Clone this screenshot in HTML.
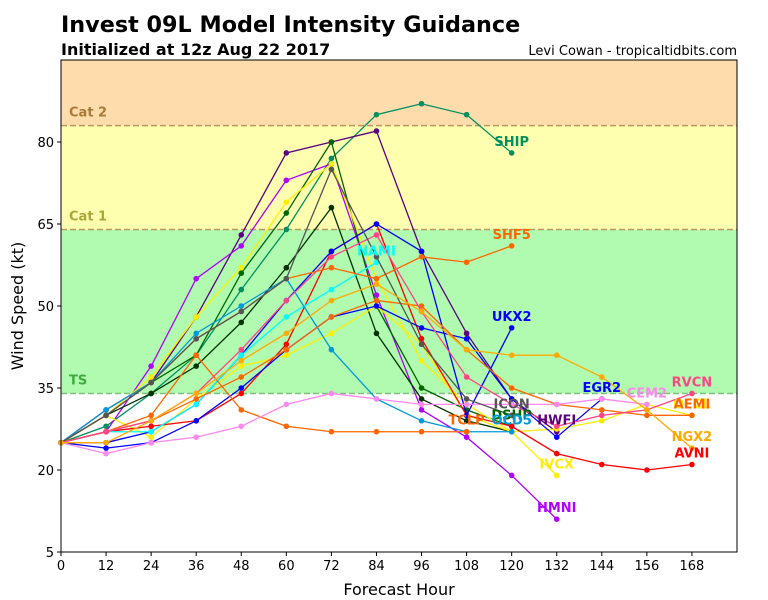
<!DOCTYPE html>
<html><head><meta charset="utf-8"><style>
body{margin:0;background:#fff;}
svg{display:block;font-family:"DejaVu Sans","Liberation Sans",sans-serif;}
</style></head><body>
<svg id="chart" width="768" height="600">
<text x="61" y="32" font-size="22.3" font-weight="bold">Invest 09L Model Intensity Guidance</text>
<text x="61" y="55" font-size="16" font-weight="bold">Initialized at 12z Aug 22 2017</text>
<text x="737" y="55" font-size="13" text-anchor="end">Levi Cowan - tropicaltidbits.com</text>
<g id="plot"></g>
</svg>
<script>
const xTicks=[0,12,24,36,48,60,72,84,96,108,120,132,144,156,168];
const yTicks=[5,20,35,50,65,80];
const bandNames=["TS","Cat 1","Cat 2"];
const bandLows=[34,64,83];
const names=["SHIP","HWFI","HMNI","DSHP","LGEM","OFCL","IVCX","AVNI","EGR2","UKX2","NAMI","OCD5","TCLP","SHF5","AEMI","RVCN","CEM2","ICON","NGX2"];
const colors=["#009060","#5c0080","#b000ff","#006600","#003300","#ffee00","#ffee00","#ff0000","#0000ff","#0000ff","#00ffff","#0099dd","#ff6600","#ff6600","#ff6600","#ff4488","#ff88ee","#555555","#ffaa00"];
const s_SHIP=[25,28,34,41,53,64,77,85,87,85,78];
const s_HWFI=[25,31,36,48,63,78,80,82,60,45,33,27];
const s_HMNI=[25,27,39,55,61,73,76,52,31,26,19,11];
const s_DSHP=[25,30,36,41,56,67,80,50,35,31,28];
const s_LGEM=[25,30,34,39,47,57,68,45,33,29,27];
const s_OFCL=[25,30,37,48,57,69,76,55,40,32,27,27.5,29,32,30];
const s_IVCX=[25,30,26,33,39,41,45,50,43,30,27,19];
const s_AVNI=[25,27,28,29,34,43,60,65,44,30,28,23,21,20,21];
const s_EGR2=[25,24,25,29,35,42,48,50,46,44,33,26,33];
const s_UKX2=[25,25,27,32,41,51,60,65,60,30,46];
const s_NAMI=[25,27,27,32,41,48,53,58];
const s_OCD5=[25,31,36,45,50,55,42,33,29,27,27];
const s_TCLP=[25,27,30,41,31,28,27,27,27,27];
const s_SHF5=[25,30,36,44,49,55,57,55,59,58,61];
const s_AEMI=[25,27,29,33,37,42,48,51,50,42,35,32,31,30,30];
const s_RVCN=[25,27,29,34,42,51,59,63,49,37,32,28,30,31,34];
const s_CEM2=[25,23,25,26,28,32,34,33,32,32,32,32,33,32];
const s_ICON=[25,30,36,44,49,55,75,59,43,33,30];
const s_NGX2=[25,25,29,34,40,45,51,54,49,42,41,41,37,31,24];
const series=[s_SHIP,s_HWFI,s_HMNI,s_DSHP,s_LGEM,s_OFCL,s_IVCX,s_AVNI,s_EGR2,s_UKX2,s_NAMI,s_OCD5,s_TCLP,s_SHF5,s_AEMI,s_RVCN,s_CEM2,s_ICON,s_NGX2];

const L=61,R=737,T=60,B=552,xMax=180,yMin=5,yMax=95;
const X=v=>L+(v/xMax)*(R-L);
const Y=v=>B-(v-yMin)/(yMax-yMin)*(B-T);
const NS="http://www.w3.org/2000/svg";
const g=document.getElementById('plot');
function mk(tag,at,parent){const e=document.createElementNS(NS,tag);for(const k in at)e.setAttribute(k,at[k]);(parent||g).appendChild(e);return e;}
const bandFill=["#b0fbb0","#ffffb0","#fedcac"];
const bandTxt=["#3caa3c","#a8a83a","#a87b3a"];
const bandHighs=[bandLows[1],bandLows[2],yMax];
for(let i=0;i<bandNames.length;i++){
  const r=mk('rect',{x:L,y:Y(bandHighs[i]),width:R-L,height:Y(bandLows[i])-Y(bandHighs[i]),fill:bandFill[i]});
  
  
  const ln=mk('line',{x1:L,x2:R,y1:Y(bandLows[i]),y2:Y(bandLows[i]),stroke:i==0?"#7fbf7f":"#b89a60","stroke-width":1.5,"stroke-dasharray":"6,3"});
  
  
  const t=mk('text',{x:L+8,y:Y(bandLows[i])-9,"font-size":13,"font-weight":"bold",fill:bandTxt[i]});
  t.textContent=bandNames[i];
  
  
}
for(let i=0;i<series.length;i++){
  const d=series[i];
  const pts=d.map((v,j)=>X(xTicks[j])+","+Y(v)).join(" ");
  const pl=mk('polyline',{points:pts,fill:"none",stroke:colors[i],"stroke-width":1.3});
  
  
  d.forEach((v,j)=>{
    const c=mk('circle',{cx:X(xTicks[j]),cy:Y(v),r:2.8,fill:colors[i]});
    
    
  });
}
for(let i=0;i<series.length;i++){
  if(names[i]=="LGEM")continue;
  const d=series[i];const n=d.length-1;
  const t=mk('text',{x:X(xTicks[n]),y:Y(d[n])-7,"font-size":13,"font-weight":"bold",fill:colors[i],"text-anchor":"middle"});
  t.textContent=names[i];
  
  
}
const fr=mk('rect',{x:L,y:T,width:R-L,height:B-T,fill:"none",stroke:"#000","stroke-width":1});


xTicks.forEach(v=>{
  const tk=mk('line',{x1:X(v),x2:X(v),y1:B,y2:B+4,stroke:"#000"});
  
  
  const t=mk('text',{x:X(v),y:B+18,"font-size":13,"text-anchor":"middle"});
  t.textContent=v;
  
  
});
yTicks.forEach(v=>{
  const tk=mk('line',{x1:L-4,x2:L,y1:Y(v),y2:Y(v),stroke:"#000"});
  
  
  const t=mk('text',{x:L-7,y:Y(v)+5,"font-size":13,"text-anchor":"end"});
  t.textContent=v;
  
  
});
const xt=mk('text',{x:(L+R)/2,y:595,"font-size":16,"text-anchor":"middle"});
xt.textContent="Forecast Hour";


const yt=mk('text',{x:0,y:0,"font-size":16,"text-anchor":"middle",transform:"translate(23,"+((T+B)/2)+") rotate(-90)"});
yt.textContent="Wind Speed (kt)";


</script>
</body></html>
